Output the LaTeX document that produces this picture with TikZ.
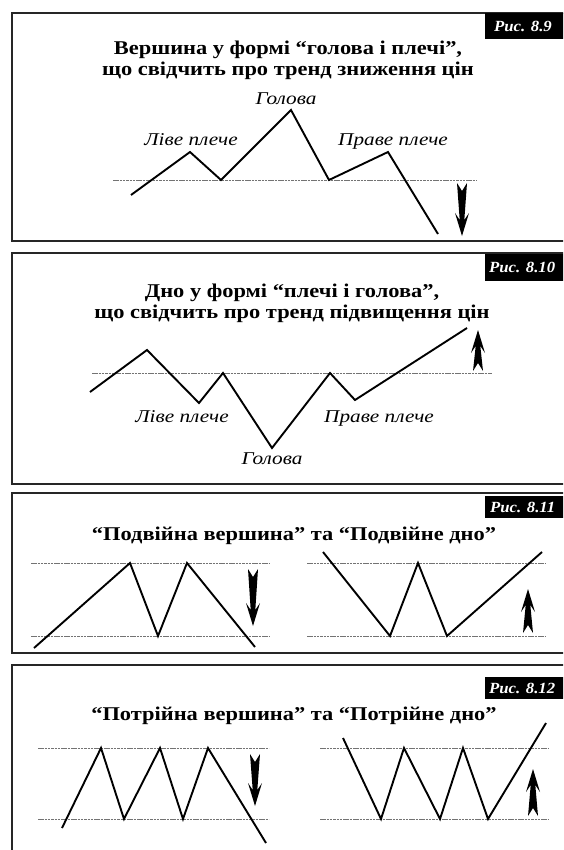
\documentclass[tikz,border=0pt]{standalone}
\usepackage{fontspec}
\setmainfont{Liberation Serif}
\newfontfamily\titlefont[FakeStretch=1.15]{Liberation Serif}
\newfontfamily\labelfont[FakeStretch=1.18]{Liberation Serif}
\newfontfamily\tagfont[FakeStretch=1.08]{Liberation Serif}
\newcommand\trendarrow[4]{% x, y of tail, length, direction (1 down, -1 up)
  \begin{scope}[shift={(#1,#2)}, yscale=#4]
    \fill (-5,0) -- (0,8) -- (5,0) -- (2.3,#3-16) -- (7,#3-23) -- (0,#3) -- (-7,#3-23) -- (-2.3,#3-16) -- cycle;
  \end{scope}}
\begin{document}
\begin{tikzpicture}[x=1pt,y=-1pt,
  frame/.style={line width=1.4pt, black!85},
  zig/.style={line width=1.9pt, line join=miter, black},
  level/.style={line width=0.6pt, black!55, dash pattern=on 2.5pt off 0.8pt},
  ttl/.style={font=\titlefont\bfseries\fontsize{19.5}{21}\selectfont, align=center, inner sep=0pt},
  lbl/.style={font=\labelfont\itshape\fontsize{18}{20}\selectfont, inner sep=0pt, anchor=base},
  tagbox/.style={fill=black},
  tag/.style={font=\tagfont\bfseries\itshape\fontsize{15.5}{17}\selectfont, text=white, inner sep=0pt, anchor=west}]
\useasboundingbox (0,0) rectangle (563,850);
\clip (0,0) rectangle (563,850);
\fill[white] (0,0) rectangle (563,850);

% ---------------- Panel 8.9 ----------------
\draw[frame] (570,13) -- (12,13) -- (12,241) -- (570,241);
\fill[tagbox] (485,13) rectangle (570,39);
\node[tag] (t89) at (494,26.5) {Рис. 8.9};
\node[ttl] (h89) at (288,60) {Вершина у формі “голова і плечі”,\\що свідчить про тренд зниження цін};
\draw[level] (113,180) -- (477,180);
\draw[zig] (131,195) -- (190,152) -- (221,180) -- (291,110) -- (329,180) -- (388,152) -- (438,234);
\node[lbl] (g89) at (286,105) {Голова};
\node[lbl] (l89) at (191,146) {Ліве плече};
\node[lbl] (r89) at (393,146) {Праве плече};
\trendarrow{462}{183}{53}{1}

% ---------------- Panel 8.10 ----------------
\draw[frame] (570,253) -- (12,253) -- (12,484) -- (570,484);
\fill[tagbox] (485,254) rectangle (570,281);
\node[tag] (t810) at (489,267.5) {Рис. 8.10};
\node[ttl] (h810) at (292,303) {Дно у формі “плечі і голова”,\\що свідчить про тренд підвищення цін};
\draw[level] (92,373) -- (492,373);
\draw[zig] (90,392) -- (147,350) -- (199,403) -- (223,373) -- (272,448) -- (330,373) -- (355,400) -- (467,328);
\node[lbl] (l810) at (182,422) {Ліве плече};
\node[lbl] (r810) at (379,422) {Праве плече};
\node[lbl] (g810) at (272,464) {Голова};
\trendarrow{478}{371}{41}{-1}

% ---------------- Panel 8.11 ----------------
\draw[frame] (570,493) -- (12,493) -- (12,653) -- (570,653);
\fill[tagbox] (485,496) rectangle (570,518);
\node[tag] (t811) at (490,507) {Рис. 8.11};
\node[ttl] (h811) at (294,536) {“Подвійна вершина” та “Подвійне дно”};
\draw[level] (31,563) -- (269,563);
\draw[level] (31,636) -- (269,636);
\draw[zig] (34,648) -- (130,563) -- (158,636) -- (187,563) -- (255,647);
\trendarrow{253}{569}{57}{1}
\draw[level] (307,563) -- (546,563);
\draw[level] (307,636) -- (546,636);
\draw[zig] (323,552) -- (390,636) -- (418,563) -- (447,636) -- (542,552);
\trendarrow{528}{633}{44}{-1}

% ---------------- Panel 8.12 ----------------
\draw[frame] (570,665) -- (12,665) -- (12,860);
\fill[tagbox] (485,677) rectangle (570,699);
\node[tag] (t812) at (489,688) {Рис. 8.12};
\node[ttl] (h812) at (294,716) {“Потрійна вершина” та “Потрійне дно”};
\draw[level] (38,748) -- (269,748);
\draw[level] (38,819) -- (269,819);
\draw[zig] (62,828) -- (101,748) -- (124,819) -- (160,748) -- (183,819) -- (208,748) -- (266,843);
\trendarrow{255}{754}{52}{1}
\draw[level] (320,748) -- (549,748);
\draw[level] (320,819) -- (549,819);
\draw[zig] (343,738) -- (381,819) -- (404,748) -- (440,819) -- (463,748) -- (488,819) -- (546,723);
\trendarrow{533}{816}{47}{-1}
\end{tikzpicture}
\end{document}
